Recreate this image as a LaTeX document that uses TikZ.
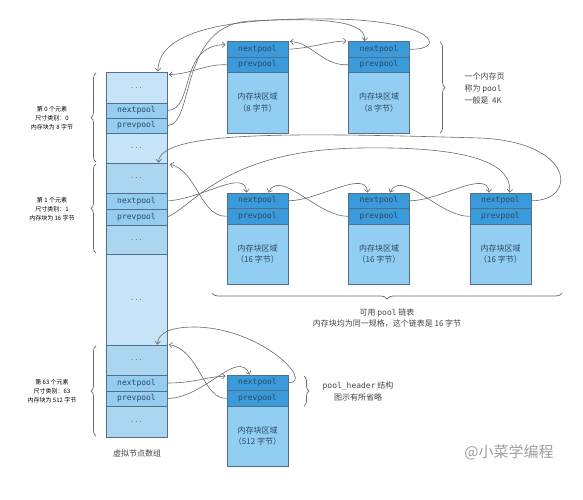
\documentclass[tikz,border=0pt]{standalone}
\usepackage{fontspec}
\newfontfamily\cjk{Noto Sans CJK SC}
\setmonofont{DejaVu Sans Mono}
\usetikzlibrary{arrows.meta,calc,decorations.pathreplacing}
\definecolor{alight}{HTML}{C6E4F7}
\definecolor{adark}{HTML}{ACD5F0}
\definecolor{afield}{HTML}{94CDF0}
\definecolor{phdr}{HTML}{3B9BDA}
\definecolor{pbody}{HTML}{91CEF2}
\definecolor{bcol}{HTML}{4F6F8A}
\definecolor{tcol}{HTML}{2B4760}
\definecolor{lcol}{HTML}{6A6A6A}
\definecolor{txtcol}{HTML}{444444}
\newcommand\mkpool[4]{%
  \node[hdr, minimum height=15.5pt] (#1n) at (#2,#3+7.75) {nextpool};
  \node[hdr, minimum height=15.5pt] (#1p) at (#2,#3+23.25) {prevpool};
  \node[pbodybox, minimum height=60.5pt] (#1b) at (#2,#3+61.25) {内存块区域\\#4};
}
\begin{document}
\begin{tikzpicture}[x=1pt,y=-1pt,
  acell/.style={draw=bcol, line width=0.8pt, minimum width=61pt, inner sep=0pt, text=tcol, font=\ttfamily\fontsize{8}{9}\selectfont},
  dcell/.style={acell, text=lcol, font=\ttfamily\fontsize{7}{8}\selectfont},
  hdr/.style={acell, fill=phdr},
  pbodybox/.style={acell, fill=pbody, font=\cjk\fontsize{8}{11.5}\selectfont, align=center},
  conn/.style={draw=lcol, line width=0.6pt, -{Straight Barb[length=3pt,width=5.5pt]}},
  brc/.style={draw=lcol, line width=0.7pt, decorate, decoration={brace, amplitude=5pt}},
  lbl/.style={font=\cjk\fontsize{6}{9}\selectfont, align=center, text=black},
  txt/.style={font=\cjk\fontsize{8}{11.5}\selectfont, text=txtcol}
]
\useasboundingbox[fill=white] (0,0) rectangle (583,500);

% ---- array column ----
\node[dcell, fill=alight, minimum height=31pt] (e0a) at (136.5,87.5) {...};
\node[acell, fill=afield, minimum height=15pt] (e0n) at (136.5,110.5) {nextpool};
\node[acell, fill=afield, minimum height=15pt] (e0p) at (136.5,125.5) {prevpool};
\node[dcell, fill=alight, minimum height=30pt] (e0b) at (136.5,148) {...};
\node[dcell, fill=adark, minimum height=30pt] (e1a) at (136.5,178) {...};
\node[acell, fill=afield, minimum height=16pt] (e1n) at (136.5,201) {nextpool};
\node[acell, fill=afield, minimum height=16pt] (e1p) at (136.5,217) {prevpool};
\node[dcell, fill=adark, minimum height=29pt] (e1b) at (136.5,239.5) {...};
\node[dcell, fill=alight, minimum height=91pt] (mid) at (136.5,299.5) {...};
\node[dcell, fill=adark, minimum height=30pt] (e63a) at (136.5,360) {...};
\node[acell, fill=afield, minimum height=16pt] (e63n) at (136.5,383) {nextpool};
\node[acell, fill=afield, minimum height=15pt] (e63p) at (136.5,398.5) {prevpool};
\node[dcell, fill=adark, minimum height=31pt] (e63b) at (136.5,421.5) {...};
\node[txt] (arrlbl) at (137,453) {虚拟节点数组};

% ---- left labels and braces ----
\draw[brc] (96,162) -- (96,73);
\draw[brc] (96,253) -- (96,164);
\draw[brc] (96,436) -- (96,346);
\node[lbl] (lab0) at (52,118) {第 0 个元素\\尺寸类别：0\\内存块为 8 字节};
\node[lbl] (lab1) at (52,209) {第 1 个元素\\尺寸类别：1\\内存块为 16 字节};
\node[lbl] (lab63) at (52,391) {第 63 个元素\\尺寸类别：63\\内存块为 512 字节};

% ---- pools ----
\mkpool{A0}{257.5}{41.5}{（8 字节）}
\mkpool{B0}{379}{41.5}{（8 字节）}
\mkpool{A1}{257.5}{193}{（16 字节）}
\mkpool{B1}{379}{193}{（16 字节）}
\mkpool{C1}{500.5}{193}{（16 字节）}
\mkpool{D}{257.5}{375}{（512 字节）}

% ---- right braces and texts ----
\draw[brc] (440,42) -- (440,133);
\node[txt, anchor=west, align=left, font=\cjk\fontsize{8}{12}\selectfont] (pagelbl) at (461,88) {一个内存页\\称为 {\ttfamily pool}\\一般是\ \ 4K};
\draw[brc, decoration={brace, amplitude=6pt}] (562,293) -- (212,293);
\node[txt, align=center, font=\cjk\fontsize{8}{11}\selectfont] (freelbl) at (387,318.5) {可用 {\ttfamily pool} 链表\\内存块均为同一规格，这个链表是 16 字节};
\draw[brc, decoration={brace, amplitude=5pt}] (304,376) -- (304,406);
\node[txt, align=center, font=\cjk\fontsize{8}{11.5}\selectfont] (hdrlbl) at (358,391.5) {{\ttfamily pool\_header} 结构\\图示有所省略};

\node[font=\cjk\fontsize{15}{18}\selectfont, text=black!38] (wm) at (509,452) {@小菜学编程};

% ---- connectors: element 0 ----
\draw[conn] (e0n.east) .. controls (195,110) and (178,45) .. ($(A0n.north west)+(-1,3.5)$);
\draw[conn] (e0p.east) .. controls (195,125) and (178,25) .. (250,21) .. controls (330,17) and (366,22) .. ($(B0n.north west)+(16.5,0)$);
\draw[conn] (B0n.east) .. controls (448,50) and (435,20) .. (330,19) .. controls (200,17) and (158,40) .. ($(e0a.north east)+(-9.5,0)$);
\draw[conn] (A0p.west) .. controls (205,64) and (192,74) .. ($(e0a.north east)+(1.5,3)$);
\draw[conn] (A0n.east) .. controls (312,48) and (330,41) .. ($(B0n.north west)+(-1.5,0)$);
\draw[conn] (B0p.west) .. controls (322,66) and (312,42) .. ($(A0n.north east)+(1.5,0.5)$);

% ---- connectors: element 1 ----
\draw[conn] (e1n.east) .. controls (205,198) and (245,168) .. ($(A1n.north west)+(20,0)$);
\draw[conn] (e1p.east) .. controls (195,205) and (225,150) .. (360,148) .. controls (475,146) and (512,165) .. ($(C1n.north west)+(40,0)$);
\draw[conn] (C1n.east) .. controls (578,201) and (575,142) .. (480,138) .. controls (300,133) and (160,130) .. ($(e1a.north east)+(-9,0)$);
\draw[conn] (A1p.west) .. controls (200,217) and (198,172) .. ($(e1a.north east)+(2.5,1.5)$);
\foreach \s/\t in {A1/B1,B1/C1}{
  \draw[conn] (\s n.east) .. controls +(30,0) and +(-2,-24) .. ($(\t n.north west)+(19.5,0)$);
}
\draw[conn] (B1p.west) .. controls (318,217) and (280,168) .. ($(A1n.north east)+(-20,0)$);
\draw[conn] (C1p.west) .. controls (439.5,217) and (401.5,168) .. ($(B1n.north east)+(-20,0)$);

% ---- connectors: element 63 ----
\draw[conn] (e63n.east) .. controls (195,383) and (205,377) .. ($(Dn.north west)+(-1,1.5)$);
\draw[conn] (e63p.east) .. controls (205,398) and (238,348) .. ($(Dn.north west)+(23,0)$);
\draw[conn] (Dp.west) .. controls (203,400) and (200,350) .. ($(e63a.north east)+(1.5,0)$);
\draw[conn] (Dn.east) .. controls (315,383) and (262,328) .. (195,327) .. controls (170,327) and (158,333) .. ($(e63a.north east)+(-10,0)$);
\end{tikzpicture}
\end{document}
